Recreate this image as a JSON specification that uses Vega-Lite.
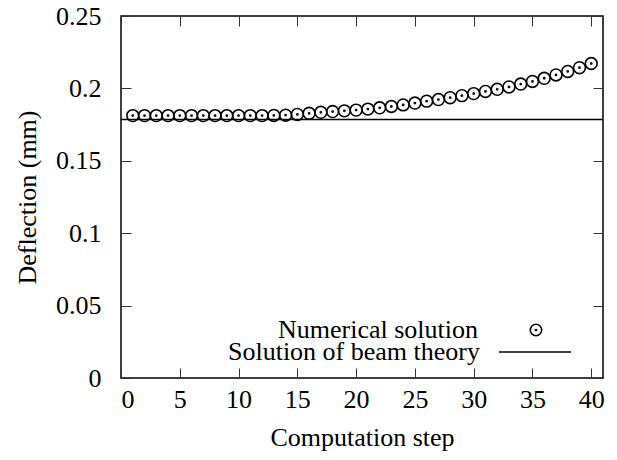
{
  "$schema": "https://vega.github.io/schema/vega-lite/v6.json",
  "width": 482,
  "height": 362,
  "autosize": {"type": "none"},
  "padding": {"left": 121, "top": 16, "right": 14, "bottom": 82},
  "background": "white",
  "config": {
    "view": {"stroke": "black", "strokeWidth": 1.5},
    "font": "serif",
    "axis": {
      "grid": false,
      "domain": false,
      "tickSize": -10,
      "tickColor": "#333",
      "tickWidth": 1,
      "labelFont": "serif",
      "labelFontSize": 26,
      "labelColor": "black",
      "titleFont": "serif",
      "titleFontSize": 26,
      "titleFontWeight": "normal",
      "titleColor": "black"
    },
    "legend": {
      "labelFont": "serif",
      "labelFontSize": 26,
      "labelColor": "black",
      "labelLimit": 400,
      "padding": 0,
      "titlePadding": 0
    }
  },
  "datasets": {
    "num": [
      {"step": 1, "deflection": 0.1812, "series": "Numerical solution"},
      {"step": 2, "deflection": 0.1812, "series": "Numerical solution"},
      {"step": 3, "deflection": 0.1812, "series": "Numerical solution"},
      {"step": 4, "deflection": 0.1812, "series": "Numerical solution"},
      {"step": 5, "deflection": 0.1812, "series": "Numerical solution"},
      {"step": 6, "deflection": 0.1812, "series": "Numerical solution"},
      {"step": 7, "deflection": 0.1812, "series": "Numerical solution"},
      {"step": 8, "deflection": 0.1812, "series": "Numerical solution"},
      {"step": 9, "deflection": 0.1812, "series": "Numerical solution"},
      {"step": 10, "deflection": 0.1812, "series": "Numerical solution"},
      {"step": 11, "deflection": 0.1812, "series": "Numerical solution"},
      {"step": 12, "deflection": 0.1812, "series": "Numerical solution"},
      {"step": 13, "deflection": 0.1813, "series": "Numerical solution"},
      {"step": 14, "deflection": 0.1815, "series": "Numerical solution"},
      {"step": 15, "deflection": 0.1820, "series": "Numerical solution"},
      {"step": 16, "deflection": 0.1828, "series": "Numerical solution"},
      {"step": 17, "deflection": 0.1835, "series": "Numerical solution"},
      {"step": 18, "deflection": 0.1840, "series": "Numerical solution"},
      {"step": 19, "deflection": 0.1845, "series": "Numerical solution"},
      {"step": 20, "deflection": 0.1850, "series": "Numerical solution"},
      {"step": 21, "deflection": 0.1857, "series": "Numerical solution"},
      {"step": 22, "deflection": 0.1866, "series": "Numerical solution"},
      {"step": 23, "deflection": 0.1875, "series": "Numerical solution"},
      {"step": 24, "deflection": 0.1886, "series": "Numerical solution"},
      {"step": 25, "deflection": 0.1899, "series": "Numerical solution"},
      {"step": 26, "deflection": 0.1912, "series": "Numerical solution"},
      {"step": 27, "deflection": 0.1923, "series": "Numerical solution"},
      {"step": 28, "deflection": 0.1936, "series": "Numerical solution"},
      {"step": 29, "deflection": 0.1950, "series": "Numerical solution"},
      {"step": 30, "deflection": 0.1964, "series": "Numerical solution"},
      {"step": 31, "deflection": 0.1979, "series": "Numerical solution"},
      {"step": 32, "deflection": 0.1994, "series": "Numerical solution"},
      {"step": 33, "deflection": 0.2010, "series": "Numerical solution"},
      {"step": 34, "deflection": 0.2030, "series": "Numerical solution"},
      {"step": 35, "deflection": 0.2048, "series": "Numerical solution"},
      {"step": 36, "deflection": 0.2070, "series": "Numerical solution"},
      {"step": 37, "deflection": 0.2093, "series": "Numerical solution"},
      {"step": 38, "deflection": 0.2117, "series": "Numerical solution"},
      {"step": 39, "deflection": 0.2143, "series": "Numerical solution"},
      {"step": 40, "deflection": 0.2172, "series": "Numerical solution"}
    ],
    "beam": [
      {"deflection": 0.1785, "series": "Solution of beam theory"}
    ]
  },
  "layer": [
    {
      "data": {"name": "beam"},
      "mark": {"type": "rule", "stroke": "black", "strokeWidth": 1.5},
      "encoding": {
        "y": {
          "field": "deflection",
          "type": "quantitative",
          "scale": {"domain": [0, 0.25], "nice": false, "zero": false},
          "axis": {
            "orient": "left",
            "title": "Deflection (mm)",
            "values": [0, 0.05, 0.1, 0.15, 0.2, 0.25],
            "format": "~g",
            "labelPadding": 30,
            "titlePadding": 15
          }
        },
        "color": {
          "field": "series",
          "type": "nominal",
          "scale": {"range": ["black"]},
          "legend": {
            "title": null,
            "orient": "none",
            "legendX": 377,
            "legendY": 299,
            "symbolType": "stroke",
            "symbolSize": 5184,
            "symbolStrokeWidth": 1.5,
            "labelAlign": "right",
            "labelOffset": -92,
            "labelBaseline": "middle"
          }
        }
      }
    },
    {
      "data": {"name": "num"},
      "mark": {"type": "point", "filled": false, "stroke": "black", "strokeWidth": 1.6, "opacity": 1, "size": 140},
      "encoding": {
        "x": {
          "field": "step",
          "type": "quantitative",
          "scale": {"domain": [0, 41], "nice": false, "zero": false},
          "axis": {
            "orient": "bottom",
            "title": "Computation step",
            "values": [0, 5, 10, 15, 20, 25, 30, 35, 40],
            "labelPadding": 18,
            "titlePadding": 12
          }
        },
        "y": {
          "field": "deflection",
          "type": "quantitative",
          "axis": {
            "orient": "right",
            "title": null,
            "labels": false,
            "values": [0, 0.05, 0.1, 0.15, 0.2, 0.25]
          }
        },
        "shape": {
          "field": "series",
          "type": "nominal",
          "scale": {"range": ["M -1 0 A 1 1 0 1 0 1 0 A 1 1 0 1 0 -1 0 Z M -0.1 0 A 0.1 0.1 0 1 0 0.1 0 A 0.1 0.1 0 1 0 -0.1 0 Z"]},
          "legend": {
            "title": null,
            "orient": "none",
            "legendX": 402,
            "legendY": 301,
            "symbolSize": 130,
            "symbolStrokeWidth": 1.6,
            "symbolStrokeColor": "black",
            "symbolFillColor": "transparent",
            "labelAlign": "right",
            "labelOffset": -71,
            "labelBaseline": "middle"
          }
        }
      }
    },
    {
      "data": {"name": "num"},
      "mark": {"type": "tick", "opacity": 0},
      "encoding": {
        "x": {
          "field": "step",
          "type": "quantitative",
          "axis": {
            "orient": "top",
            "title": null,
            "labels": false,
            "values": [0, 5, 10, 15, 20, 25, 30, 35, 40]
          }
        }
      }
    }
  ],
  "resolve": {"axis": {"x": "independent", "y": "independent"}}
}
